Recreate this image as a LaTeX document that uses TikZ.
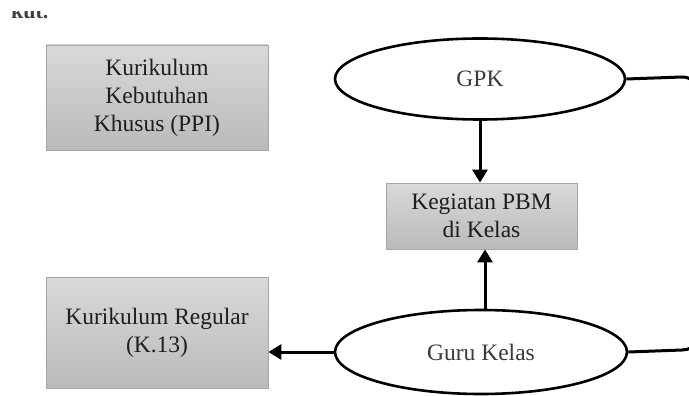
\documentclass[tikz,border=0pt]{standalone}
\usepackage{fontspec}
\setmainfont{Liberation Serif}
\usetikzlibrary{arrows.meta,shapes.geometric}
\definecolor{boxtext}{HTML}{1E1E1E}
\definecolor{elltext}{HTML}{3A3A3A}
\tikzset{
  graybox/.style={draw=black!35, line width=0.8pt, top color=black!15, bottom color=black!27,
    inner sep=0pt, align=center, text=boxtext, font=\fontsize{23.5}{28}\selectfont},
  oval/.style={ellipse, draw=black, line width=2.6pt, fill=white, inner sep=0pt,
    text=elltext, font=\fontsize{23.5}{28}\selectfont},
  link/.style={line width=3pt, -{Triangle[length=13pt,width=15pt]}},
  plain/.style={line width=3pt}
}
\begin{document}
\begin{tikzpicture}[x=1pt,y=-1pt]
\useasboundingbox (0,0) rectangle (689,396);
\begin{scope}
\clip (0,12) rectangle (120,30);
\node[anchor=base west, inner sep=0pt, font=\fontsize{22}{26}\selectfont\bfseries, text=black!75] (kut) at (11,19) {kut.};
\end{scope}
\node[graybox, minimum width=222pt, minimum height=105pt] (ppi) at (157,97.5) {Kurikulum\\Kebutuhan\\Khusus (PPI)};
\node[graybox, minimum width=222pt, minimum height=111pt] (reg) at (157,332.5) {Kurikulum Regular\\(K.13)};
\node[graybox, minimum width=191pt, minimum height=66pt] (keg) at (481.5,216) {Kegiatan PBM\\di Kelas};
\node[oval, minimum width=290pt, minimum height=81pt] (gpk) at (480,79) {GPK};
\node[oval, minimum width=292pt, minimum height=84pt] (gk) at (481,352) {Guru Kelas};
\coordinate (topend) at (705,110);
\coordinate (botend) at (705,320);
\draw[link] (gpk.south) -- (gpk.south |- keg.north);
\draw[link] ([xshift=4pt]gk.north) -- ([xshift=4pt]gk.north |- keg.south);
\draw[link] (gk.west) -- (reg.east |- gk.west);
\draw[plain] (gpk.east) -- (682,77) to[out=0,in=90] (topend);
\draw[plain] (gk.east) -- (682,350) to[out=0,in=-90] (botend);
\end{tikzpicture}
\end{document}
